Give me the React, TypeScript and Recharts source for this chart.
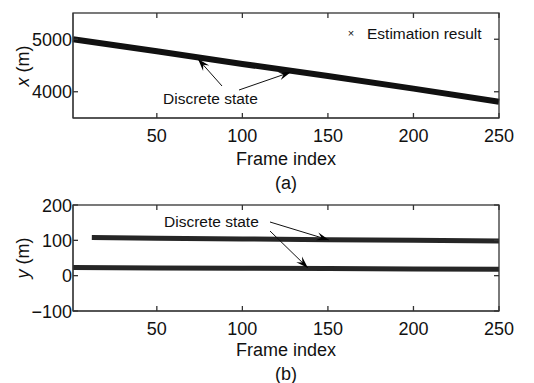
import { LineChart, Line, XAxis, YAxis } from 'recharts'

// frame index samples
const FRAMES = [1, 50, 100, 150, 200, 250]
const X_POS = [5000, 4770, 4530, 4300, 4060, 3810]

const UPPER_FRAMES = [12, 50, 100, 150, 200, 250]
const Y_UPPER = [108, 106, 104, 102, 100, 98]
const LOWER_FRAMES = [1, 50, 100, 150, 200, 250]
const Y_LOWER = [23, 22, 21, 20, 19, 18]

const X_TICKS = [50, 100, 150, 200, 250]
const X_POS_TICKS = [4000, 5000]
const Y_TICKS = [-100, 0, 100, 200]

const FONT = '"Liberation Sans", Arial, sans-serif'
const AXIS = '#333'
const FS = 18
const FS_NOTE = 15.5

// plot boxes (px) used for the MATLAB-style frame
const L = 73
const R = 499
const TOP_A = 13
const BOT_A = 118
const TOP_B = 205
const BOT_B = 311

const topData = FRAMES.map((f, i) => ({ frame: f, x: X_POS[i] }))
const upperData = UPPER_FRAMES.map((f, i) => ({ frame: f, y: Y_UPPER[i] }))
const lowerData = LOWER_FRAMES.map((f, i) => ({ frame: f, y: Y_LOWER[i] }))

const fmt = (v: number) => (v < 0 ? `\u2212${Math.abs(v)}` : `${v}`)

function BottomTick(props: any) {
  const { x, y, payload } = props
  return (
    <text x={x} y={y + 24} textAnchor="middle" fontSize={FS} fill="#111" fontFamily={FONT}>
      {payload.value}
    </text>
  )
}

function LeftTick(props: any) {
  const { x, y, payload } = props
  return (
    <text x={x - 1} y={y + 6.5} textAnchor="end" fontSize={FS} fill="#111" fontFamily={FONT}>
      {fmt(payload.value)}
    </text>
  )
}

function arrowHead(x1: number, y1: number, x2: number, y2: number) {
  const a = Math.atan2(y2 - y1, x2 - x1)
  const len = 13
  const w = 0.32
  const p1 = [x2 - len * Math.cos(a - w), y2 - len * Math.sin(a - w)]
  const p2 = [x2 - len * Math.cos(a + w), y2 - len * Math.sin(a + w)]
  const pm = [x2 - len * 0.6 * Math.cos(a), y2 - len * 0.6 * Math.sin(a)]
  return `${x2},${y2} ${p1[0]},${p1[1]} ${pm[0]},${pm[1]} ${p2[0]},${p2[1]}`
}

function Arrow({ x1, y1, x2, y2 }: { x1: number; y1: number; x2: number; y2: number }) {
  return (
    <g>
      <line x1={x1} y1={y1} x2={x2} y2={y2} stroke="#111" strokeWidth={1} />
      <polygon points={arrowHead(x1, y1, x2, y2)} fill="#000" />
    </g>
  )
}

// box with inward ticks on all four sides
function Box({ top, bottom, yDomain, yTicks }: { top: number; bottom: number; yDomain: [number, number]; yTicks: number[] }) {
  const px = (f: number) => L + ((f - 1) * (R - L)) / 249
  const py = (v: number) => top + ((yDomain[1] - v) * (bottom - top)) / (yDomain[1] - yDomain[0])
  return (
    <g stroke={AXIS} strokeWidth={1.3} fill="none">
      <rect x={L} y={top} width={R - L} height={bottom - top} />
      {X_TICKS.map(t => (
        <g key={`x${t}`}>
          <line x1={px(t)} x2={px(t)} y1={bottom} y2={bottom - 5} />
          <line x1={px(t)} x2={px(t)} y1={top} y2={top + 5} />
        </g>
      ))}
      {yTicks.map(t => (
        <g key={`y${t}`}>
          <line x1={L} x2={L + 5} y1={py(t)} y2={py(t)} />
          <line x1={R} x2={R - 5} y1={py(t)} y2={py(t)} />
        </g>
      ))}
    </g>
  )
}

export default function App() {
  return (
    <div style={{ position: 'absolute', left: 0, top: 0, width: 534, height: 383, background: '#fff' }}>
      <div style={{ position: 'absolute', left: 0, top: 0 }}>
        <LineChart width={534} height={190} data={topData} margin={{ top: TOP_A, right: 534 - R, left: 0, bottom: 0 }}>
          <XAxis dataKey="frame" type="number" domain={[1, 250]} ticks={X_TICKS} height={190 - BOT_A}
            tickSize={0} tickMargin={0} tickLine={false} tick={BottomTick} axisLine={{ stroke: AXIS }} />
          <YAxis type="number" domain={[3500, 5500]} ticks={X_POS_TICKS} width={L}
            tickSize={0} tickMargin={0} tickLine={false} tick={LeftTick} axisLine={{ stroke: AXIS }} />
          <Line dataKey="x" stroke="#111" strokeWidth={6} dot={false} isAnimationActive={false} />
        </LineChart>
      </div>
      <div style={{ position: 'absolute', left: 0, top: 190 }}>
        <LineChart width={534} height={193} margin={{ top: TOP_B - 190, right: 534 - R, left: 0, bottom: 0 }}>
          <XAxis dataKey="frame" type="number" domain={[1, 250]} ticks={X_TICKS} height={383 - BOT_B}
            tickSize={0} tickMargin={0} tickLine={false} tick={BottomTick} axisLine={{ stroke: AXIS }} />
          <YAxis type="number" domain={[-100, 200]} ticks={Y_TICKS} width={L}
            tickSize={0} tickMargin={0} tickLine={false} tick={LeftTick} axisLine={{ stroke: AXIS }} />
          <Line data={upperData} dataKey="y" stroke="#262626" strokeWidth={5} dot={false} isAnimationActive={false} />
          <Line data={lowerData} dataKey="y" stroke="#262626" strokeWidth={5} dot={false} isAnimationActive={false} />
        </LineChart>
      </div>
      <svg width={534} height={383} style={{ position: 'absolute', left: 0, top: 0, pointerEvents: 'none' }}
        fontFamily={FONT}>
        <Box top={TOP_A} bottom={BOT_A} yDomain={[3500, 5500]} yTicks={X_POS_TICKS} />
        <Box top={TOP_B} bottom={BOT_B} yDomain={[-100, 200]} yTicks={Y_TICKS} />
        {/* legend */}
        <text x={351} y={37} fontSize={11} textAnchor="middle" fill="#111">×</text>
        <text x={367} y={39} fontSize={FS_NOTE} fill="#111">Estimation result</text>
        {/* top annotations */}
        <text x={163} y={104} fontSize={FS_NOTE} fill="#111">Discrete state</text>
        <Arrow x1={222} y1={86} x2={198} y2={59} />
        <Arrow x1={239} y1={90} x2={291} y2={72} />
        {/* top axis labels */}
        <text transform="translate(29,66) rotate(-90)" fontSize={FS} textAnchor="middle" fill="#111">
          <tspan fontStyle="italic">x</tspan> (m)
        </text>
        <text x={286} y={165} fontSize={FS} textAnchor="middle" fill="#111">Frame index</text>
        <text x={286} y={189} fontSize={FS} textAnchor="middle" fill="#111">(a)</text>
        {/* bottom annotations */}
        <text x={164} y={227} fontSize={FS_NOTE} fill="#111">Discrete state</text>
        <Arrow x1={270} y1={222} x2={329} y2={240} />
        <Arrow x1={270} y1={231} x2={308} y2={268} />
        {/* bottom axis labels */}
        <text transform="translate(29,258) rotate(-90)" fontSize={FS} textAnchor="middle" fill="#111">
          <tspan fontStyle="italic">y</tspan> (m)
        </text>
        <text x={286} y={356} fontSize={FS} textAnchor="middle" fill="#111">Frame index</text>
        <text x={286} y={380} fontSize={FS} textAnchor="middle" fill="#111">(b)</text>
      </svg>
    </div>
  )
}
